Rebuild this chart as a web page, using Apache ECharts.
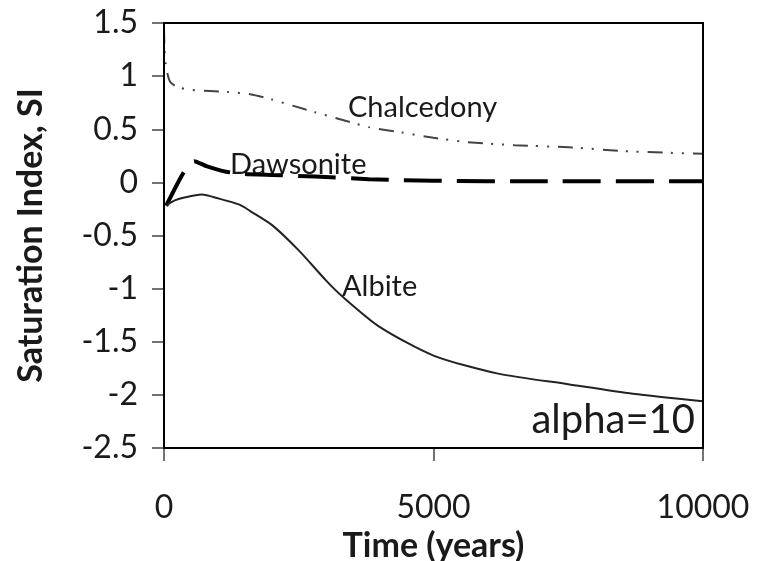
<!DOCTYPE html>
<html>
<head>
<meta charset="utf-8">
<script src="https://cdn.jsdelivr.net/npm/echarts@6/dist/echarts.min.js"></script>
<style>
  html, body { margin: 0; padding: 0; background: #fff; }
  #chart { width: 758px; height: 561px; }
</style>
</head>
<body>
<div id="chart"></div>
<script>
// time (years) and saturation index
const chalcTime = [0, 10, 30, 60, 110, 200, 300, 500, 850, 1200, 1600, 2000, 2400, 2800, 3300, 3800, 4400, 5000, 5600, 6500, 7500, 8700, 10000];
const chalcSI = [1.45, 1.25, 1.12, 1.03, 0.95, 0.91, 0.89, 0.87, 0.86, 0.85, 0.83, 0.78, 0.72, 0.66, 0.59, 0.52, 0.47, 0.42, 0.38, 0.35, 0.33, 0.29, 0.27];

const dawsTime = [40, 360, 560, 800, 1150, 1500, 2000, 2800, 3800, 5000, 7000, 10000];
const dawsSI = [-0.22, 0.09, 0.20, 0.15, 0.10, 0.08, 0.07, 0.055, 0.03, 0.015, 0.01, 0.01];

const albTime = [40, 200, 400, 700, 1000, 1400, 1600, 2000, 2500, 3000, 3300, 4000, 5000, 6200, 7500, 8700, 10000];
const albSI = [-0.22, -0.17, -0.14, -0.115, -0.15, -0.21, -0.27, -0.40, -0.64, -0.92, -1.07, -1.36, -1.63, -1.80, -1.90, -1.99, -2.06];

const xTicks = [0, 5000, 10000];
const yTicks = [-2.5, -2, -1.5, -1, -0.5, 0, 0.5, 1, 1.5];

function pairs(t, v) {
  return t.map(function (x, i) { return [x, v[i]]; });
}

const FONT = 'Lato, "Noto Sans", sans-serif';
const xMin = xTicks[0], xMax = xTicks[xTicks.length - 1];
const yMin = yTicks[0], yMax = yTicks[yTicks.length - 1];

// plot box in pixels
const G = { left: 164, right: 55, top: 23, bottom: 113 };
const W = 758, H = 561;

const chart = echarts.init(document.getElementById('chart'));

const option = {
  animation: false,
  backgroundColor: '#fff',
  grid: {
    left: G.left, right: G.right, top: G.top, bottom: G.bottom,
    outerBoundsMode: 'none', containLabel: false,
    show: true, borderColor: '#000', borderWidth: 2, backgroundColor: 'transparent'
  },
  xAxis: {
    type: 'value',
    min: xMin, max: xMax, interval: 5000,
    name: 'Time (years)', nameLocation: 'middle', nameGap: 80,
    nameTextStyle: { fontFamily: FONT, fontWeight: 'bold', fontSize: 34, color: '#1a1a1a' },
    axisLine: { onZero: false, lineStyle: { color: '#666', width: 2 } },
    axisTick: { length: 13, lineStyle: { color: '#444', width: 1.5 } },
    axisLabel: { margin: 44, fontFamily: FONT, fontSize: 32, color: '#1a1a1a',
      formatter: function (v) { return String(v); } },
    splitLine: { show: false }
  },
  yAxis: {
    type: 'value',
    min: yMin, max: yMax, interval: 0.5,
    name: 'Saturation Index, SI', nameLocation: 'middle', nameGap: 116,
    nameTextStyle: { fontFamily: FONT, fontWeight: 'bold', fontSize: 34, color: '#1a1a1a' },
    axisLine: { onZero: false, lineStyle: { color: '#000', width: 2 } },
    axisTick: { length: 12, lineStyle: { color: '#444', width: 1.5 } },
    axisLabel: { margin: 26, fontFamily: FONT, fontSize: 32, color: '#1a1a1a' },
    splitLine: { show: false }
  },
  series: [
    {
      name: 'Chalcedony', type: 'line', data: pairs(chalcTime, chalcSI),
      showSymbol: false, smooth: 0.25,
      lineStyle: { color: '#444', width: 2, type: [15, 8, 2, 9, 2, 9] }
    },
    {
      name: 'Dawsonite', type: 'line', data: pairs(dawsTime, dawsSI),
      showSymbol: false, smooth: 0.2,
      lineStyle: { color: '#000', width: 4, type: [38, 15] }
    },
    {
      name: 'Albite', type: 'line', data: pairs(albTime, albSI),
      showSymbol: false, smooth: 0.25,
      lineStyle: { color: '#222', width: 2 }
    },
    {
      // top and right edges of the plot box, from the axis extents
      name: 'frame', type: 'line', clip: false, silent: true, z: 5,
      data: [[xMin, yMax], [xMax, yMax], [xMax, yMin]],
      showSymbol: false, symbol: 'none',
      lineStyle: { color: '#000', width: 2 }
    }
  ],
  graphic: [
    {
      id: 'box', type: 'rect', z: 100, silent: true,
      shape: { x: G.left, y: G.top, width: W - G.left - G.right, height: H - G.top - G.bottom },
      style: { fill: 'none', stroke: '#000', lineWidth: 2 }
    },
    { id: 'chalc', type: 'text', left: 348, top: 93, style: { text: 'Chalcedony', font: '29px ' + FONT, fill: '#1a1a1a' } },
    { id: 'daws', type: 'text', left: 230, top: 150, style: { text: 'Dawsonite', font: '29px ' + FONT, fill: '#1a1a1a' } },
    { id: 'alb', type: 'text', left: 342, top: 272, style: { text: 'Albite', font: '29px ' + FONT, fill: '#1a1a1a' } },
    { id: 'alpha', type: 'text', right: 63, top: 400, style: { text: 'alpha=10', font: '40px ' + FONT, fill: '#1a1a1a' } }
  ]
};

chart.setOption(option);
</script>
</body>
</html>
